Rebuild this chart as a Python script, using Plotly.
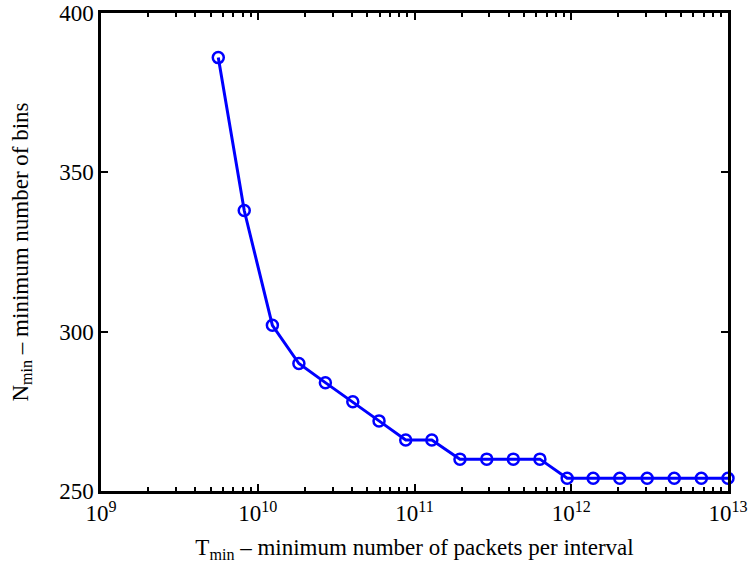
import plotly.graph_objects as go

t_min = [5.6e9, 8.2e9, 1.24e10, 1.83e10, 2.7e10, 4.04e10, 5.94e10, 8.79e10,
         1.29e11, 1.95e11, 2.89e11, 4.27e11, 6.31e11, 9.42e11, 1.38e12,
         2.04e12, 3.05e12, 4.54e12, 6.76e12, 1.0e13]
n_min = [386, 338, 302, 290, 284, 278, 272, 266, 266, 260, 260, 260, 260,
         254, 254, 254, 254, 254, 254, 254]

x_tickvals = [1e9, 1e10, 1e11, 1e12, 1e13]
x_ticktext = ["10<sup>9</sup>", "10<sup>10</sup>", "10<sup>11</sup>",
              "10<sup>12</sup>", "10<sup>13</sup>"]
y_tickvals = [250, 300, 350, 400]

font = "Liberation Serif, Times New Roman, serif"
fs = 23

fig = go.Figure()
fig.add_trace(go.Scatter(
    x=t_min, y=n_min, mode="lines+markers",
    line=dict(color="#0000ff", width=3),
    marker=dict(symbol="circle-open", size=11, color="#0000ff",
                line=dict(width=2.5, color="#0000ff")),
    cliponaxis=False,
))

fig.update_layout(
    width=748, height=563,
    margin=dict(l=101, r=20, t=13, b=72),
    paper_bgcolor="white", plot_bgcolor="white",
    showlegend=False,
    font=dict(family=font, size=fs, color="black"),
)
fig.update_xaxes(
    type="log", range=[9, 13], automargin=False,
    tickvals=x_tickvals, ticktext=x_ticktext,
    ticks="inside", ticklen=7, tickwidth=1.5, tickcolor="black",
    minor=dict(ticks="inside", ticklen=4, tickwidth=1.5, tickcolor="black",
               dtick="D1", showgrid=False),
    showline=True, linecolor="black", linewidth=2.5, mirror="ticks",
    showgrid=False, zeroline=False,
    tickfont=dict(family=font, size=fs),
    title=dict(text="T<sub>min</sub> – minimum number of packets per interval",
               font=dict(family=font, size=fs)),
)
fig.update_yaxes(
    range=[250, 400], automargin=False,
    tickvals=y_tickvals,
    ticks="inside", ticklen=7, tickwidth=1.5, tickcolor="black",
    showline=True, linecolor="black", linewidth=2.5, mirror="ticks",
    showgrid=False, zeroline=False,
    tickfont=dict(family=font, size=fs),
    title=dict(text="N<sub>min</sub> – minimum number of bins",
               font=dict(family=font, size=fs), standoff=25),
)

fig.write_html("out.html", config={"displayModeBar": False},
               post_script="document.body.style.margin='0';document.body.style.overflow='hidden';")
